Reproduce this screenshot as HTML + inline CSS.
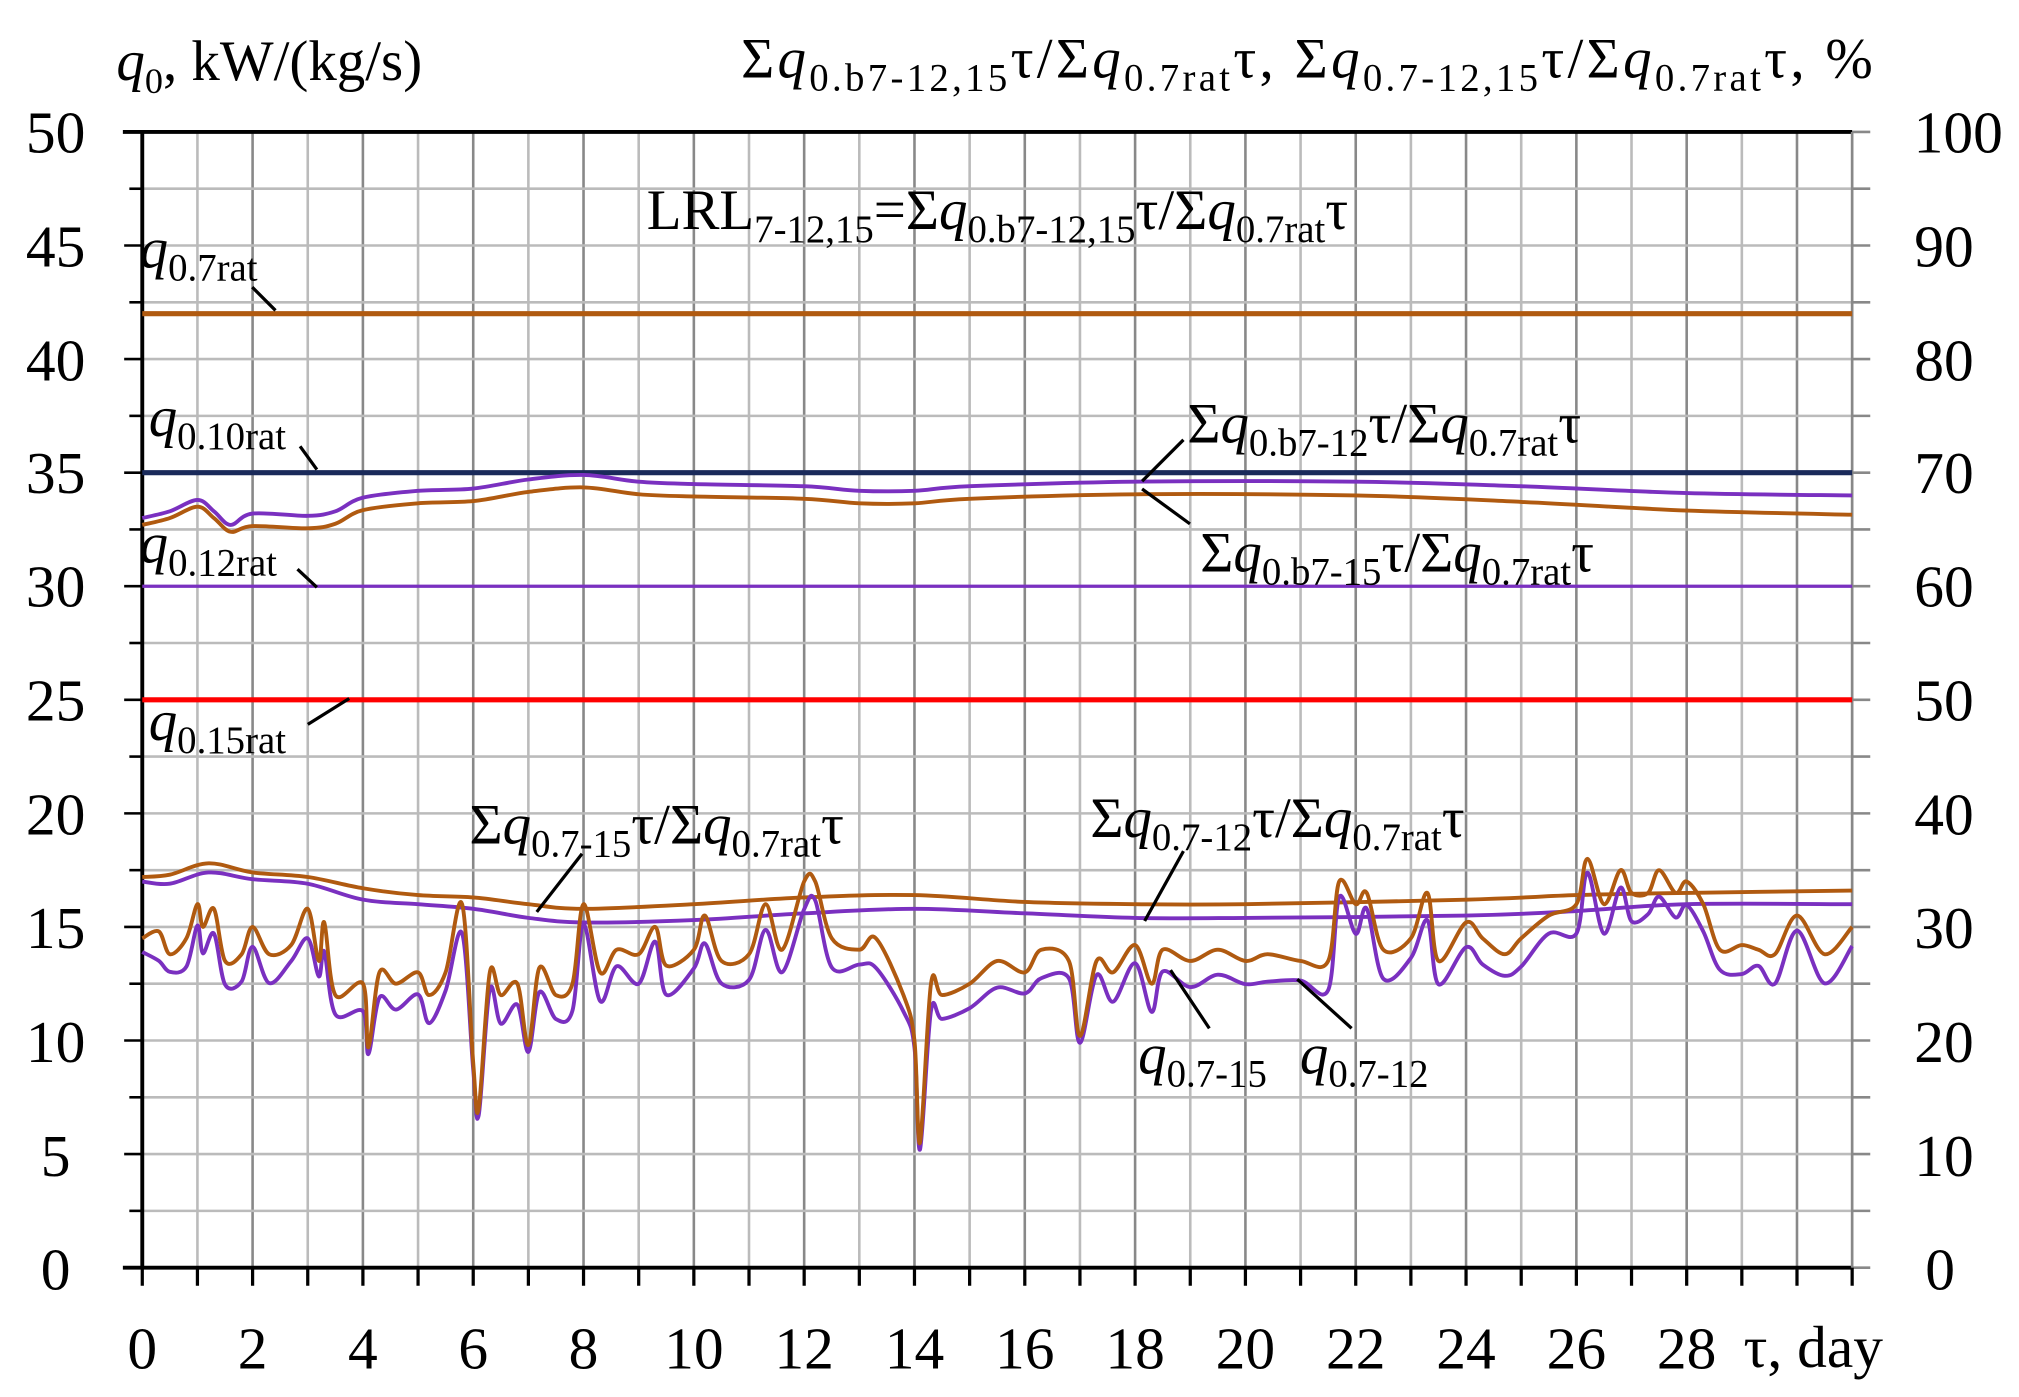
<!DOCTYPE html>
<html><head><meta charset="utf-8"><style>
html,body{margin:0;padding:0;background:#fff}
svg{display:block}
text{font-family:"Liberation Serif",serif;fill:#000}
</style></head><body>
<svg id="s" width="2019" height="1397" viewBox="0 0 1561 1080" preserveAspectRatio="none" xmlns="http://www.w3.org/2000/svg">
<g id="grid"></g>
<g id="series"></g>
<g font-size="46">
<text x="43" y="118" text-anchor="middle">50</text>
<text x="43" y="206" text-anchor="middle">45</text>
<text x="43" y="294" text-anchor="middle">40</text>
<text x="43" y="381" text-anchor="middle">35</text>
<text x="43" y="469" text-anchor="middle">30</text>
<text x="43" y="557" text-anchor="middle">25</text>
<text x="43" y="645" text-anchor="middle">20</text>
<text x="43" y="733" text-anchor="middle">15</text>
<text x="43" y="821" text-anchor="middle">10</text>
<text x="43" y="909" text-anchor="middle">5</text>
<text x="43" y="997" text-anchor="middle">0</text>
<text x="1514" y="118" text-anchor="middle">100</text>
<text x="1503" y="206" text-anchor="middle">90</text>
<text x="1503" y="294" text-anchor="middle">80</text>
<text x="1503" y="381" text-anchor="middle">70</text>
<text x="1503" y="469" text-anchor="middle">60</text>
<text x="1503" y="557" text-anchor="middle">50</text>
<text x="1503" y="645" text-anchor="middle">40</text>
<text x="1503" y="733" text-anchor="middle">30</text>
<text x="1503" y="821" text-anchor="middle">20</text>
<text x="1503" y="909" text-anchor="middle">10</text>
<text x="1500" y="997" text-anchor="middle">0</text>
</g>
<g id="xl" font-size="46"></g>
<text x="1348" y="1057" font-size="46">τ, day</text>
<text x="90" y="62" font-size="44"><tspan font-style="italic">q</tspan><tspan font-size="28" dy="10">0</tspan><tspan dy="-10">, kW/(kg/s)</tspan></text>
<text x="573" y="60" font-size="44" textLength="875">Σ<tspan font-style="italic">q</tspan><tspan font-size="30" dy="10">0.b7-12,15</tspan><tspan dy="-10">τ/Σ</tspan><tspan font-style="italic">q</tspan><tspan font-size="30" dy="10">0.7rat</tspan><tspan dy="-10">τ, Σ</tspan><tspan font-style="italic">q</tspan><tspan font-size="30" dy="10">0.7-12,15</tspan><tspan dy="-10">τ/Σ</tspan><tspan font-style="italic">q</tspan><tspan font-size="30" dy="10">0.7rat</tspan><tspan dy="-10">τ,  %</tspan></text>
<text x="500" y="177" font-size="44">LRL<tspan font-size="30" dy="10">7-12,15</tspan><tspan dy="-10">=Σ</tspan><tspan font-style="italic">q</tspan><tspan font-size="30" dy="10">0.b7-12,15</tspan><tspan dy="-10">τ/Σ</tspan><tspan font-style="italic">q</tspan><tspan font-size="30" dy="10">0.7rat</tspan><tspan dy="-10">τ</tspan></text>
<g font-size="44">
<text x="108" y="207"><tspan font-style="italic">q</tspan><tspan font-size="30" dy="10">0.7rat</tspan></text>
<text x="115" y="337"><tspan font-style="italic">q</tspan><tspan font-size="30" dy="10">0.10rat</tspan></text>
<text x="108" y="435"><tspan font-style="italic">q</tspan><tspan font-size="30" dy="10">0.12rat</tspan></text>
<text x="115" y="572"><tspan font-style="italic">q</tspan><tspan font-size="30" dy="10">0.15rat</tspan></text>
<text x="918" y="342">Σ<tspan font-style="italic">q</tspan><tspan font-size="30" dy="10">0.b7-12</tspan><tspan dy="-10">τ/Σ</tspan><tspan font-style="italic">q</tspan><tspan font-size="30" dy="10">0.7rat</tspan><tspan dy="-10">τ</tspan></text>
<text x="928" y="442">Σ<tspan font-style="italic">q</tspan><tspan font-size="30" dy="10">0.b7-15</tspan><tspan dy="-10">τ/Σ</tspan><tspan font-style="italic">q</tspan><tspan font-size="30" dy="10">0.7rat</tspan><tspan dy="-10">τ</tspan></text>
<text x="363" y="652">Σ<tspan font-style="italic">q</tspan><tspan font-size="30" dy="10">0.7-15</tspan><tspan dy="-10">τ/Σ</tspan><tspan font-style="italic">q</tspan><tspan font-size="30" dy="10">0.7rat</tspan><tspan dy="-10">τ</tspan></text>
<text x="843" y="647">Σ<tspan font-style="italic">q</tspan><tspan font-size="30" dy="10">0.7-12</tspan><tspan dy="-10">τ/Σ</tspan><tspan font-style="italic">q</tspan><tspan font-size="30" dy="10">0.7rat</tspan><tspan dy="-10">τ</tspan></text>
<text x="880" y="830"><tspan font-style="italic">q</tspan><tspan font-size="30" dy="10">0.7-15</tspan></text>
<text x="1005" y="830"><tspan font-style="italic">q</tspan><tspan font-size="30" dy="10">0.7-12</tspan></text>
</g>
<g stroke="#000" stroke-width="2.5" fill="none">
<line x1="195" y1="222" x2="213" y2="240"/>
<line x1="232" y1="345" x2="245" y2="363"/>
<line x1="230" y1="440" x2="245" y2="454"/>
<line x1="238" y1="560" x2="270" y2="540"/>
<line x1="915" y1="340" x2="883" y2="372"/>
<line x1="920" y1="405" x2="883" y2="378"/>
<line x1="450" y1="660" x2="415" y2="705"/>
<line x1="915" y1="658" x2="885" y2="712"/>
<line x1="935" y1="795" x2="905" y2="750"/>
<line x1="1045" y1="795" x2="1003" y2="757"/>
</g>
</svg>
<script>
const L=110,R=1432,T=102,B=980,XM=31;
const X=d=>L+d*(R-L)/XM, Y=v=>B-v*(B-T)/50;
const ns="http://www.w3.org/2000/svg";
function el(p,t,a){const e=document.createElementNS(ns,t);for(const k in a)e.setAttribute(k,a[k]);p.appendChild(e);return e;}
const g=document.getElementById('grid');
for(let d=1;d<=XM;d++){el(g,'line',{x1:X(d),x2:X(d),y1:T,y2:B,stroke:d%2==0?'#888':'#bbb','stroke-width':2});}
for(let v=2.5;v<50;v+=2.5){el(g,'line',{x1:L,x2:R,y1:Y(v),y2:Y(v),stroke:'#bbb','stroke-width':2});}
for(let v=0;v<=50;v+=2.5){el(g,'line',{x1:v%5==0?L-14:L-10,x2:L,y1:Y(v),y2:Y(v),stroke:'#000','stroke-width':2});el(g,'line',{x1:R,x2:R+14,y1:Y(v),y2:Y(v),stroke:'#888','stroke-width':2});}
for(let d=0;d<=XM;d++){el(g,'line',{x1:X(d),x2:X(d),y1:B,y2:B+14,stroke:'#000','stroke-width':2.5});}
el(g,'line',{x1:L,x2:L,y1:T,y2:B,stroke:'#000','stroke-width':3});
el(g,'line',{x1:L-15,x2:R,y1:B,y2:B,stroke:'#000','stroke-width':3});
el(g,'line',{x1:L-15,x2:R,y1:T,y2:T,stroke:'#000','stroke-width':3});
el(g,'line',{x1:R,x2:R,y1:T,y2:B,stroke:'#888','stroke-width':2});
const xl=document.getElementById('xl');
for(let d=0;d<=28;d+=2){const t=el(xl,'text',{x:X(d),y:1058,'text-anchor':'middle'});t.textContent=d;}
const s=document.getElementById('series');
function hl(v,c,w){el(s,'line',{x1:L,x2:R,y1:Y(v),y2:Y(v),stroke:c,'stroke-width':w});}
hl(42,'#b05a10',4);hl(35,'#1a2a5a',4);hl(30,'#7a30c0',2.5);hl(25,'#ff0000',4);
function path(pts,c,w){const P=pts.map(p=>[X(p[0]),Y(p[1])]);let d='M'+P[0][0].toFixed(1)+','+P[0][1].toFixed(1);
for(let i=0;i<P.length-1;i++){const p0=P[Math.max(0,i-1)],p1=P[i],p2=P[i+1],p3=P[Math.min(P.length-1,i+2)];
const c1=[p1[0]+(p2[0]-p0[0])/6,p1[1]+(p2[1]-p0[1])/6],c2=[p2[0]-(p3[0]-p1[0])/6,p2[1]-(p3[1]-p1[1])/6];
d+='C'+c1.map(v=>v.toFixed(1))+' '+c2.map(v=>v.toFixed(1))+' '+p2.map(v=>v.toFixed(1));}
el(s,'path',{d:d,stroke:c,'stroke-width':w,fill:'none','stroke-linejoin':'round'});}
const up=[[0,33],[0.5,33.3],[1,33.8],[1.3,33.3],[1.6,32.7],[2,33.2],[3,33.1],[3.5,33.3],[4,33.9],[5,34.2],[6,34.3],[7,34.7],[8,34.9],[9,34.6],[10,34.5],[12,34.4],[13,34.2],[14,34.2],[15,34.4],[18,34.6],[22,34.6],[25,34.4],[28,34.1],[31,34.0]];
path(up,'#7a30c0',3);
path(up.map(p=>[p[0],p[1]-(p[0]<2?0.3:0.55)-(p[0]>20?0.1*(p[0]-20)/11*3:0)]),'#b05a10',3);
path([[0,17.2],[0.5,17.3],[1.2,17.8],[2,17.4],[3,17.2],[4,16.7],[5,16.4],[6,16.3],[7,16],[8,15.8],[10,16],[12,16.3],[14,16.4],[16,16.1],[18,16],[20,16],[24,16.2],[26,16.4],[28,16.5],[31,16.6]],'#b05a10',3);
path([[0,17],[0.5,16.9],[1.2,17.4],[2,17.1],[3,16.9],[4,16.2],[5,16],[6,15.8],[7,15.4],[8,15.2],[10,15.3],[12,15.6],[14,15.8],[16,15.6],[18,15.4],[20,15.4],[24,15.5],[26,15.7],[28,16],[31,16]],'#7a30c0',3);
const br=[[0,14.5],[0.3,14.8],[0.5,13.8],[0.8,14.5],[1,16],[1.1,15],[1.3,15.8],[1.5,13.5],[1.8,13.8],[2,15],[2.3,13.8],[2.7,14.2],[3,15.8],[3.2,13.5],[3.3,15.2],[3.5,12],[4,12.5],[4.1,9.7],[4.3,13],[4.6,12.5],[5,13],[5.2,12],[5.5,13],[5.8,16],[6,9],[6.1,7],[6.3,13],[6.5,12],[6.8,12.5],[7,9.8],[7.2,13.2],[7.5,12],[7.8,12.5],[8,16],[8.3,13],[8.6,14],[9,13.8],[9.3,15],[9.5,13.3],[10,14],[10.2,15.5],[10.5,13.5],[11,13.8],[11.3,16],[11.6,14],[12,17],[12.2,17],[12.5,14.5],[13,14],[13.3,14.5],[13.8,12],[14,10],[14.1,5.5],[14.3,12.5],[14.5,12],[15,12.5],[15.5,13.5],[16,13],[16.3,14],[16.8,13.5],[17,10.2],[17.3,13.5],[17.6,13],[18,14.2],[18.3,12.5],[18.5,14],[19,13.5],[19.5,14],[20,13.5],[20.4,13.8],[21,13.5],[21.5,13.5],[21.7,17],[22,16],[22.2,16.5],[22.5,14],[23,14.5],[23.3,16.5],[23.5,13.5],[24,15.2],[24.3,14.5],[24.7,13.8],[25,14.5],[25.5,15.5],[26,16],[26.2,18],[26.5,16],[26.8,17.5],[27,16.5],[27.3,16.5],[27.5,17.5],[27.8,16.5],[28,17],[28.3,16],[28.6,14],[29,14.2],[29.3,14],[29.6,13.8],[30,15.5],[30.5,13.8],[31,15]];
path(br.map((p,i)=>[p[0],p[1]-(p[1]<11?0.3:0.6+0.7*Math.abs(Math.sin(i*1.7)))]),'#7a30c0',3);
path(br,'#b05a10',3);
</script>
</body></html>
